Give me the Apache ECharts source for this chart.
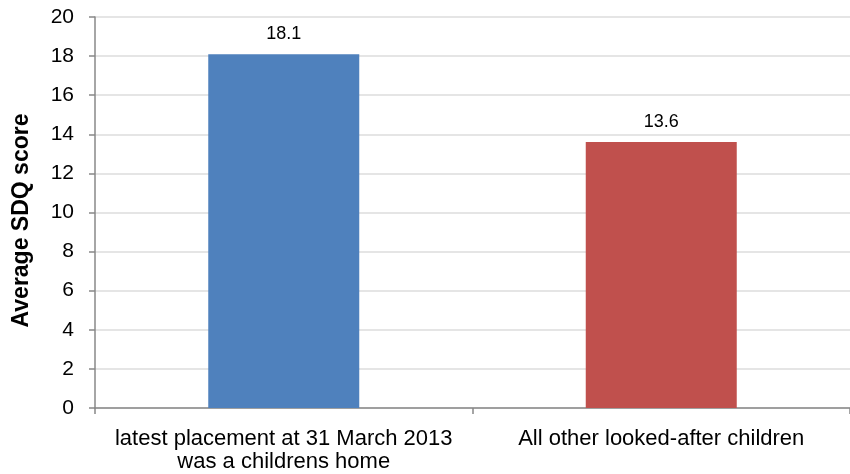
<!DOCTYPE html>
<html><head><meta charset="utf-8">
<script src="https://cdn.jsdelivr.net/npm/echarts@6/dist/echarts.min.js"></script>
<style>html,body{margin:0;padding:0;background:#fff}#c{width:850px;height:474px}</style>
</head><body><div id="c"></div>
<script>
const categories = ['latest placement at 31 March 2013\nwas a childrens home', 'All other looked-after children'];
const values = [18.1, 13.6];
const colors = ['#4F81BD', '#C0504D'];
const yName = 'Average SDQ score';

const chart = echarts.init(document.getElementById('c'), null, {renderer: 'canvas'});
chart.setOption({
  animation: false,
  grid: {left: 95, right: -5, top: 17, bottom: 66, containLabel: false},
  xAxis: {
    type: 'category', data: categories,
    axisLine: {lineStyle: {color: '#888888', width: 1.5}},
    axisTick: {show: true, length: 6, lineStyle: {color: '#888888', width: 1.5}},
    axisLabel: {interval: 0, hideOverlap: false, color: '#000', fontFamily: 'Liberation Sans, Arial', fontSize: 22, lineHeight: 23, margin: 19}
  },
  yAxis: {
    type: 'value', min: 0, max: 20, interval: 2,
    name: yName, nameLocation: 'middle', nameGap: 62,
    nameTextStyle: {color: '#000', fontFamily: 'Liberation Sans, Arial', fontSize: 23, fontWeight: 'bold', padding: [0, 16, 0, 0]},
    axisLine: {show: true, lineStyle: {color: '#888888', width: 1.5}},
    axisTick: {show: true, length: 6, lineStyle: {color: '#888888', width: 1.5}},
    axisLabel: {color: '#000', fontFamily: 'Liberation Sans, Arial', fontSize: 21, margin: 21},
    splitLine: {show: true, lineStyle: {color: '#dddddd', width: 1.5}}
  },
  series: [{
    type: 'bar', barWidth: '40%',
    data: values.map((v, i) => ({value: v, itemStyle: {color: colors[i]}})),
    label: {show: true, position: 'top', distance: 11, color: '#000', fontFamily: 'Liberation Sans, Arial', fontSize: 18}
  }]
});
</script></body></html>
